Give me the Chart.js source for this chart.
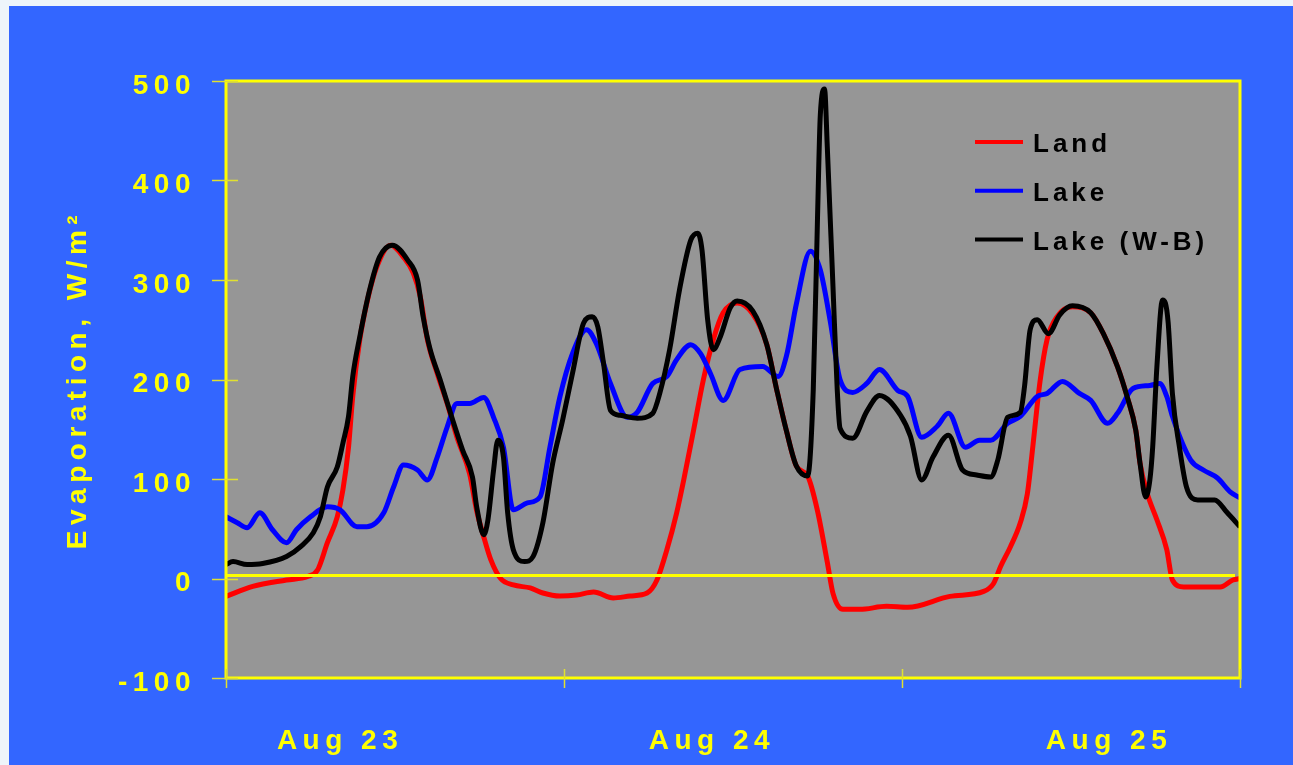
<!DOCTYPE html>
<html lang="en">
<head>
  <meta charset="UTF-8" />
  <title>Evaporation - Aug 23-25</title>
  <script src="https://cdn.jsdelivr.net/npm/chart.js"></script>
  <style>
    html, body {
      margin: 0;
      padding: 0;
      width: 1293px;
      height: 765px;
      overflow: hidden;
      background: #eef5fa;
    }
    #panel {
      position: absolute;
      left: 9px;
      top: 6px;
      width: 1284px;
      height: 759px;
      background: #3366ff;
    }
  </style>
</head>
<body>
  <div id="panel"><canvas id="evapChart"></canvas></div>

  <script>
    // x in hours from the start of Aug 23, y in W/m2
    const landHours = [0, 1.9, 4.3, 5.8, 6.5, 7.2, 7.9, 8.3, 8.7, 9.0, 9.5, 10.0, 10.7, 11.7, 12.6, 13.3, 13.8, 14.3, 15.0, 15.7,
      16.4, 17.3, 17.8, 18.3, 18.8, 19.5, 20.4, 21.6, 22.5, 23.7, 24.9, 26.1, 27.5, 28.7, 29.9, 30.6, 31.3, 32.0, 32.5, 33.2,
      33.9, 34.6, 35.3, 36.3, 37.4, 38.4, 39.1, 39.8, 40.5, 41.3, 42.0, 42.7, 43.1, 43.8, 45.0, 46.9, 48.4, 51.4, 53.8, 54.5,
      55.0, 55.7, 56.4, 56.9, 57.3, 57.8, 58.3, 59.0, 60.1, 61.4, 62.3, 63.3, 64.0, 64.6, 64.9, 65.4, 66.1, 66.8, 67.2, 68.0,
      70.6, 71.5, 72];
    const landValues = [-18, -8, -1.5, 2, 8.5, 36, 62, 89, 132, 183, 240, 277, 313, 335, 323, 307, 283, 240, 206, 176,
      142, 105, 68, 42, 19, 0, -6.5, -9.5, -14.6, -17.6, -16.6, -13.6, -19.6, -17.6, -14.6, -1.5, 28.6, 66, 99, 149,
      200, 240, 267, 277, 266, 235, 190, 148, 113, 103, 68, 16, -15, -31, -31, -28, -29, -18, -13, -5,
      12, 32, 56, 85, 134, 198, 240, 263, 273, 267, 246, 213, 182, 149, 116, 86, 59, 29, -1.5, -8.5,
      -8.5, -1.5, 0];

    const lakeHours = [0, 0.8, 1.5, 2.4, 3.3, 4.3, 5.0, 6.0, 7.2, 8.1, 9.3, 10.0, 11.2, 11.9, 12.6, 13.6, 14.3, 15.0, 15.7, 16.4,
      17.3, 18.3, 19.0, 19.7, 20.4, 21.4, 22.3, 23.0, 23.7, 24.6, 25.6, 26.3, 27.3, 28.5, 29.2, 30.3, 31.3, 32.0, 33.0, 33.7,
      34.4, 35.3, 36.5, 38.1, 39.2, 39.8, 40.5, 41.5, 42.2, 42.9, 43.6, 44.5, 45.5, 46.4, 47.7, 48.4, 49.4, 50.5, 51.3, 52.5,
      53.5, 54.3, 55.5, 56.4, 57.6, 58.3, 59.4, 60.6, 61.4, 62.6, 63.3, 64.4, 65.6, 66.3, 66.8, 67.2, 68.5, 69.4, 70.4, 71.3,
      72];
    const lakeValues = [62, 56, 51, 66, 49, 36, 49, 62, 72, 69, 52, 52, 66, 92, 114, 109, 99, 122, 152, 176,
      176, 182, 162, 132, 69, 76, 82, 132, 182, 226, 250, 236, 196, 162, 167, 196, 203, 220, 235, 226,
      206, 179, 210, 213, 203, 224, 276, 329, 310, 259, 200, 187, 196, 210, 189, 183, 142, 153, 166, 132,
      139, 139, 156, 163, 183, 186, 198, 186, 179, 156, 166, 191, 194, 196, 183, 163, 119, 109, 101, 87,
      81];

    const wbHours = [0, 0.5, 1.5, 2.6, 4.3, 5.3, 6.2, 6.7, 7.2, 7.9, 8.3, 8.7, 9.0, 9.5, 10.2, 10.9, 11.8, 12.9, 13.6, 14.0,
      14.5, 15.2, 16.1, 16.8, 17.5, 17.8, 18.3, 18.6, 19.0, 19.3, 19.7, 20.0, 20.4, 21.2, 21.8, 22.5, 23.2, 23.9, 24.6, 25.4,
      26.0, 26.4, 26.8, 27.3, 28.0, 29.2, 30.3, 30.8, 31.5, 32.2, 33.0, 33.5, 33.8, 34.2, 34.6, 35.1, 35.8, 36.3, 37.4, 38.4,
      39.1, 39.8, 40.5, 41.3, 41.7, 42.0, 42.2, 42.5, 42.7, 43.1, 43.4, 43.6, 44.5, 45.5, 46.4, 47.9, 48.6, 49.4, 50.2, 51.3,
      52.3, 53.3, 54.3, 54.8, 55.5, 56.4, 56.7, 57.1, 57.6, 58.4, 59.2, 60.1, 61.4, 62.3, 63.3, 64.0, 64.6, 64.9, 65.3, 65.6,
      65.8, 66.1, 66.5, 66.7, 66.9, 67.2, 67.7, 68.2, 69.0, 70.2, 71.1, 72];
    const wbValues = [14, 17, 14, 15, 22, 32, 46, 62, 92, 112, 136, 163, 203, 243, 290, 323, 335, 320, 300, 263,
      230, 200, 159, 129, 102, 72, 44, 59, 109, 139, 122, 66, 29, 17, 22, 56, 116, 159, 206, 257,
      263, 253, 217, 169, 164, 161, 166, 186, 230, 290, 340, 347, 330, 260, 230, 243, 272, 279, 269, 235,
      190, 148, 113, 103, 190, 362, 466, 492, 432, 293, 190, 151, 141, 168, 184, 164, 143, 99, 122, 144,
      109, 104, 102, 119, 162, 167, 193, 250, 260, 246, 265, 274, 267, 246, 213, 182, 149, 116, 82, 99,
      132, 213, 280, 277, 257, 186, 132, 92, 79, 79, 66, 52];

    const seriesNames = ['Land', 'Lake', 'Lake (W-B)'];
    const dayLabels = ['Aug 23', 'Aug 24', 'Aug 25'];
    const dayLabelHours = [8.1, 34.5, 62.7];
    const dayTickHours = [0, 24, 48, 72];
    const zeroLineValue = 3;

    const YELLOW = '#ffff00';
    const FONT = "'Liberation Sans', Arial, sans-serif";

    const toPoints = (xs, ys) => xs.map((x, i) => ({ x: x, y: ys[i] }));

    // grey plot area, yellow frame / zero line / tick marks, legend inside the plot
    const decor = {
      id: 'decor',
      beforeDraw(chart) {
        const { ctx, chartArea: a } = chart;
        ctx.letterSpacing = '5.5px';
        ctx.save();
        ctx.fillStyle = '#969696';
        ctx.fillRect(a.left, a.top, a.right - a.left, a.bottom - a.top);
        ctx.restore();
      },
      afterDatasetsDraw(chart) {
        const { ctx, chartArea: a, scales } = chart;
        const x = scales.x, y = scales.y;
        ctx.save();

        ctx.strokeStyle = YELLOW;
        ctx.lineWidth = 3;
        const zy = y.getPixelForValue(zeroLineValue);
        ctx.beginPath();
        ctx.moveTo(a.left, zy);
        ctx.lineTo(a.right - 5, zy);
        ctx.stroke();
        ctx.strokeRect(a.left, a.top, a.right - a.left, a.bottom - a.top);

        ctx.lineWidth = 1.5;
        ctx.strokeStyle = '#e0e030';
        y.ticks.forEach(t => {
          const py = Math.round(y.getPixelForValue(t.value)) + 0.5;
          ctx.beginPath();
          ctx.moveTo(a.left - 14, py);
          ctx.lineTo(a.left + 12, py);
          ctx.stroke();
        });
        dayTickHours.forEach(h => {
          const px = Math.round(x.getPixelForValue(h)) + 0.5;
          ctx.beginPath();
          ctx.moveTo(px, a.bottom - 9);
          ctx.lineTo(px, a.bottom + 10);
          ctx.stroke();
        });

        ctx.font = 'bold 26px ' + FONT;
        ctx.letterSpacing = '4px';
        ctx.textBaseline = 'middle';
        ctx.textAlign = 'left';
        chart.data.datasets.forEach((ds, i) => {
          const ly = a.top + 61 + i * 48.7;
          ctx.strokeStyle = ds.borderColor;
          ctx.lineWidth = 4;
          ctx.beginPath();
          ctx.moveTo(a.right - 265, ly);
          ctx.lineTo(a.right - 217, ly);
          ctx.stroke();
          ctx.fillStyle = '#000';
          ctx.fillText(ds.label, a.right - 207, ly + 3);
        });
        ctx.restore();
      }
    };

    const ctx = document.getElementById('evapChart').getContext('2d');
    new Chart(ctx, {
      type: 'line',
      data: {
        datasets: [
          { label: seriesNames[0], data: toPoints(landHours, landValues), borderColor: '#ff0000', order: 3 },
          { label: seriesNames[1], data: toPoints(lakeHours, lakeValues), borderColor: '#0000ff', order: 2 },
          { label: seriesNames[2], data: toPoints(wbHours, wbValues), borderColor: '#000000', order: 1 }
        ]
      },
      options: {
        responsive: true,
        maintainAspectRatio: false,
        animation: false,
        events: [],
        layout: { padding: { left: 0, right: 53, top: 75, bottom: 0 } },
        elements: {
          line: { borderWidth: 5, cubicInterpolationMode: 'monotone', fill: false },
          point: { radius: 0 }
        },
        scales: {
          x: {
            type: 'linear',
            min: 0,
            max: 72,
            afterFit(s) { s.height = 87; },
            afterBuildTicks(s) { s.ticks = dayLabelHours.map(v => ({ value: v })); },
            grid: { display: false, drawTicks: false },
            border: { display: false },
            ticks: {
              color: YELLOW,
              font: { family: FONT, size: 28, weight: 'bold' },
              padding: 46,
              autoSkip: false,
              maxRotation: 0,
              callback: (v, i) => dayLabels[i]
            }
          },
          y: {
            min: -100,
            max: 500,
            afterFit(s) { s.width = 217; },
            grid: { display: false, drawTicks: false },
            border: { display: false },
            ticks: {
              stepSize: 100,
              color: YELLOW,
              font: { family: FONT, size: 28, weight: 'bold' },
              padding: 30,
              labelOffset: 5
            },
            title: {
              display: true,
              text: 'Evaporation, W/m²',
              color: YELLOW,
              font: { family: FONT, size: 28, weight: 'bold' },
              padding: { top: 52, bottom: 0 }
            }
          }
        },
        plugins: {
          legend: { display: false },
          tooltip: { enabled: false }
        }
      },
      plugins: [decor]
    });
  </script>
</body>
</html>
